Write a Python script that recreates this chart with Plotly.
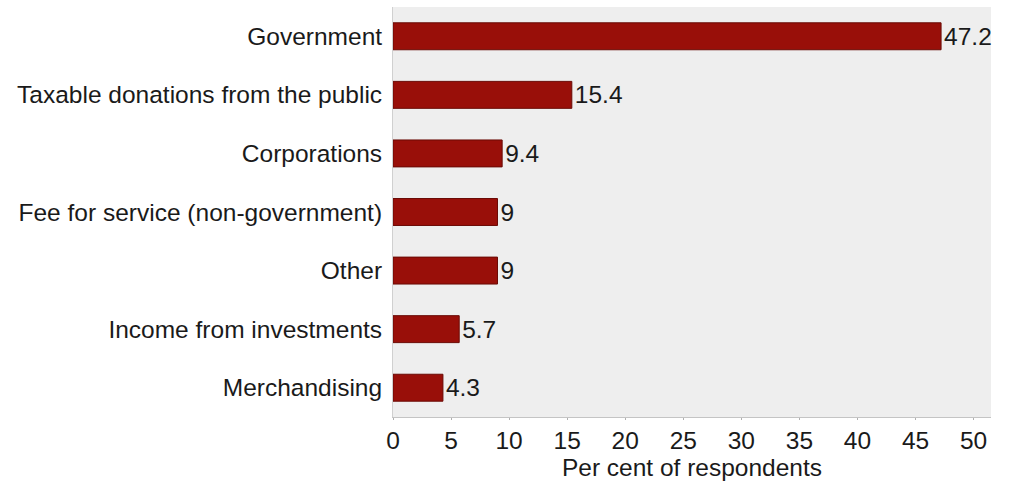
import plotly.graph_objects as go

# Funding sources and share of respondents (%)
sources = [
    "Government",
    "Taxable donations from the public",
    "Corporations",
    "Fee for service (non-government)",
    "Other",
    "Income from investments",
    "Merchandising",
]
percent = [47.2, 15.4, 9.4, 9, 9, 5.7, 4.3]
x_ticks = [0, 5, 10, 15, 20, 25, 30, 35, 40, 45, 50]

FONT = "Liberation Sans, Arial, Helvetica, sans-serif"
FS = 24.5

fig = go.Figure(
    go.Bar(
        x=percent,
        y=sources,
        orientation="h",
        width=0.46,
        marker=dict(color="#990f09", line=dict(color="#6a0a05", width=1)),
        text=[f"{v:g}" for v in percent],
        textposition="outside",
        textfont=dict(family=FONT, size=FS, color="#1a1a1a"),
        cliponaxis=False,
    )
)

fig.update_layout(
    width=1010,
    height=486,
    margin=dict(l=393, r=19, t=7, b=69),
    paper_bgcolor="white",
    plot_bgcolor="#eeeeee",
    font=dict(family=FONT, size=FS, color="#1a1a1a"),
    showlegend=False,
    uniformtext=dict(minsize=FS, mode="show"),
)

fig.update_xaxes(
    range=[0, 51.5],
    tickvals=x_ticks,
    ticks="outside",
    ticklen=2,
    tickcolor="#b0b0b0",
    showline=True,
    linecolor="#c4c4c4",
    linewidth=1,
    showgrid=False,
    zeroline=False,
    tickfont=dict(size=FS, color="#1a1a1a"),
    title=dict(text="Per cent of respondents", font=dict(size=FS, color="#1a1a1a"), standoff=4),
)

fig.update_yaxes(
    categoryorder="array",
    categoryarray=sources,
    autorange="reversed",
    showline=True,
    linecolor="#d0d0d0",
    linewidth=1,
    showgrid=False,
    zeroline=False,
    ticks="outside",
    ticklen=5,
    tickcolor="rgba(0,0,0,0)",
    tickfont=dict(size=FS, color="#1a1a1a"),
)

fig.write_html("out.html")
